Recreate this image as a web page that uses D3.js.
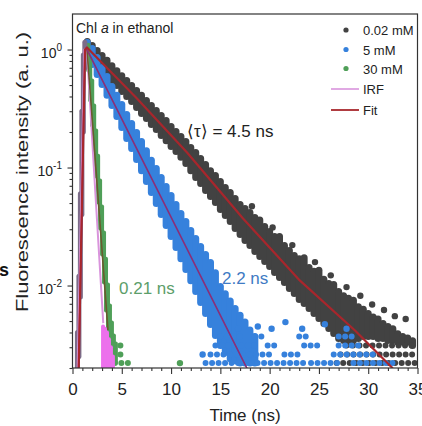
<!DOCTYPE html>
<html lang="en">
<head>
<meta charset="UTF-8">
<title>chl_a_decay</title>
<script src="https://d3js.org/d3.v7.min.js"></script>
<style>
  body { margin: 0; background: #fff; }
  svg { display: block; font-family: 'Liberation Sans', Arial, sans-serif; }
</style>
</head>
<body>
<div id="chart"></div>
<script>
// decay clouds: [time ns, low, high] per column
const grayCols = [
  [1.5,0.925,1.17],[2,0.823,1.08],[2.5,0.746,0.981],[3,0.66,0.89],[3.5,0.6,0.81],[4,0.546,0.73],
  [4.5,0.495,0.66],[5,0.441,0.6],[5.5,0.4,0.546],[6,0.363,0.495],[6.5,0.3225,0.45],[7,0.287,0.41],
  [7.5,0.26,0.37],[8,0.231,0.335],[8.5,0.21,0.304],[9,0.187,0.276],[9.5,0.169,0.25],[10,0.151,0.223],
  [10.5,0.137,0.202],[11,0.122,0.183],[11.5,0.108,0.166],[12,0.094,0.148],[12.5,0.0823,0.134],
  [13,0.0732,0.119],[13.5,0.0638,0.106],[14,0.0568,0.094],[14.5,0.0505,0.0855],[15,0.0441,0.0761],
  [15.5,0.0392,0.0677],[16,0.0349,0.0614],[16.5,0.0304,0.0546],[17,0.027,0.0486],[17.5,0.0241,0.0449],
  [18,0.0218,0.0416],[18.5,0.0194,0.0377],[19,0.0176,0.036],[19.5,0.016,0.0316],[20,0.0145,0.0287],
  [20.5,0.0129,0.026],[21,0.0117,0.026],[21.5,0.0106,0.0218],[22,0.00943,0.0198],[22.5,0.00855,0.018],
  [23,0.00761,0.0169],[23.5,0.00704,0.0172],[24,0.00638,0.0142],[24.5,0.00579,0.0132],[25,0.00525,0.0135],
  [25.5,0.00476,0.0113],[26,0.00432,0.0104],[26.5,0.00392,0.0102],[27,0.00356,0.0089],[27.5,0.00342,0.0082],
  [28,0.00342,0.0078],[28.5,0.00342,0.0075],[29,0.00356,0.0066],[29.5,0.0037,0.0063],[30,0.0037,0.0058],
  [30.5,0.0037,0.0054],[31,0.00356,0.0052],[31.5,0.00356,0.00476],[32,0.00342,0.0045],[32.5,0.00342,0.0043],
  [33,0.0033,0.0039],[33.5,0.0033,0.0037],[34,0.0033,0.0036],[34.5,0.0031,0.0034]
];
const blueCols = [
  [1.5,0.907,1.146],[2,0.746,1.02],[2.5,0.614,0.855],[3,0.505,0.704],[3.5,0.41,0.59],[4,0.335,0.486],
  [4.5,0.27,0.41],[5,0.218,0.342],[5.5,0.176,0.281],[6,0.145,0.236],[6.5,0.117,0.198],[7,0.094,0.166],
  [7.5,0.0761,0.139],[8,0.0614,0.115],[8.5,0.0495,0.098],[9,0.04,0.0823],[9.5,0.0323,0.069],[10,0.026,0.0579],
  [10.5,0.021,0.0486],[11,0.0169,0.0408],[11.5,0.0137,0.0349],[12,0.011,0.0293],[12.5,0.0089,0.025],
  [13,0.00718,0.0214],[13.5,0.00579,0.0183],[14,0.00467,0.0157],[14.5,0.00377,0.0128],[15,0.0031,0.0098],
  [15.5,0.0027,0.0085],[16,0.0024,0.0074],[16.5,0.0023,0.0064],[17,0.0022,0.0056],[17.5,0.0022,0.0049],
  [18,0.0022,0.0042],[18.5,0.0022,0.0037]
];
const greenCols = [
  [1.6,0.664,1.1],[1.8,0.37,0.839],[2,0.227,0.546],[2.2,0.139,0.335],[2.4,0.0839,0.206],[2.6,0.0505,0.126],
  [2.8,0.0304,0.0776],[3,0.0183,0.0467],[3.2,0.0106,0.0281],[3.4,0.00614,0.0169],[3.6,0.00377,0.0102],
  [3.8,0.0027,0.00677],[4,0.0022,0.00486],[4.2,0.0022,0.00377],[4.4,0.0022,0.00322]
];
const riseCols = [
  [0.5,0.0019,0.004],[0.65,0.0025,0.012],[0.8,0.008,0.06],[0.95,0.04,0.3],[1.1,0.2,0.9],[1.25,0.7,1.15]
];
const irfTail = [
  [3.1,0.0019,0.0045],[3.3,0.0019,0.0043],[3.5,0.0019,0.004],[3.7,0.0019,0.0035],[3.9,0.0019,0.003],[4.1,0.0019,0.0025]
];

// photon-count rows at the floor: [t start, t end, level]
const grayRows = [[26.8,35,0.0022],[27.2,35,0.0026],[27.8,35,0.0031]];
const blueRows = [
  [13.5,23.5,0.0022],[24.2,27,0.0022],[28.5,33,0.0022],
  [14,20.5,0.0026],[21.5,23,0.0026],[26.5,31,0.0026],
  [14.5,19,0.0031],[19.8,21,0.0031],[23.5,25,0.0031],[27,29.5,0.0031],
  [15,17,0.0037],[18.5,19.5,0.0037],[23,23.8,0.0037],[27,28.5,0.0037]
];
const greenRows = [[4.3,5.8,0.0022],[4.2,5.5,0.0026],[4.2,5.0,0.0031]];

// stray single points
const grayDots = [[18.2,0.047],[20.3,0.031],[22.3,0.022],[24.6,0.0158],[26.2,0.0122],[27.8,0.0097],
  [29.2,0.0082],[30.4,0.0069],[31.6,0.0062],[32.7,0.0055],[33.8,0.0052]];
const blueDots = [[16.8,0.0043],[18.8,0.0045],[20.2,0.0043],[21.6,0.0049],[23.3,0.0043],[25.6,0.0047],[13.2,0.0026],[27.8,0.0043]];
const greenDots = [[10.9,0.0022]];

// fitted curves and IRF: [t, intensity]
const grayFit = [[0.62,0.0019],[1.27,1.0],[1.47,1.04],[6.54,0.384],[11.62,0.134],[17.3,0.037],[23.08,0.011],[28.66,0.00416],[32.41,0.00202],[32.8,0.0018]];
const blueFit = [[0.62,0.0019],[1.27,1.0],[1.47,1.0],[18.0,0.00177]];
const greenFit = [[1.47,1.0],[3.6,0.0042]];
const irfLine = [[0.52,0.0019],[1.2,1.0],[1.45,1.0],[1.78,0.35],[2.28,0.069],[2.79,0.0137],[3.12,0.0048]];

const xTicks = [0, 5, 10, 15, 20, 25, 30, 35];
const yTicks = [1, 0.1, 0.01];
const yTickExp = ["0", "-1", "-2"];
const legendNames = ["0.02 mM", "5 mM", "30 mM", "IRF", "Fit"];

const colors = {
  gray: "#424242", blue: "#3681dc", green: "#4f9f58", rise: "#7c6c88",
  irf: "#d994dc", irfTail: "#ec70ec", fit: "#a8262c", blueFit: "#8a2e78", greenFit: "#6a5a2e"
};

const width = 422, height = 426;
const mLeft = 72.5, mRight = 417.5, mTop = 14, mBottom = 368;

const svg = d3.select("#chart").append("svg")
  .attr("width", width).attr("height", height);

svg.append("rect").attr("width", width).attr("height", height).attr("fill", "#fff");

const x = d3.scaleLinear().domain([0, 35]).range([mLeft, mRight]);
const y = d3.scaleLog().domain([0.002, 2]).range([mBottom, mTop]);

svg.append("clipPath").attr("id", "plotclip").append("rect")
  .attr("x", mLeft).attr("y", mTop).attr("width", mRight - mLeft).attr("height", mBottom - mTop);

const plot = svg.append("g").attr("clip-path", "url(#plotclip)");

function drawCols(data, color, w) {
  plot.append("g").selectAll("line").data(data).join("line")
    .attr("x1", d => x(d[0])).attr("x2", d => x(d[0]))
    .attr("y1", d => y(d[1])).attr("y2", d => y(d[2]))
    .attr("stroke", color).attr("stroke-width", w)
    .attr("stroke-linecap", "round");
}
function drawRows(data, color) {
  plot.append("g").selectAll("line").data(data).join("line")
    .attr("x1", d => x(d[0])).attr("x2", d => x(d[1]))
    .attr("y1", d => y(d[2])).attr("y2", d => y(d[2]))
    .attr("stroke", color).attr("stroke-width", 6)
    .attr("stroke-dasharray", "0 6.5")
    .attr("stroke-linecap", "round");
}
function drawDots(data, color) {
  plot.append("g").selectAll("circle").data(data).join("circle")
    .attr("cx", d => x(d[0])).attr("cy", d => y(d[1]))
    .attr("r", 3.2).attr("fill", color);
}
const line = d3.line().x(d => x(d[0])).y(d => y(d[1]));
function drawLine(data, color, w) {
  plot.append("path").datum(data).attr("d", line)
    .attr("fill", "none").attr("stroke", color).attr("stroke-width", w)
    .attr("stroke-linejoin", "round");
}

// data clouds
drawCols(grayCols, colors.gray, 7);
drawRows(grayRows, colors.gray);
drawDots(grayDots, colors.gray);
drawCols(blueCols, colors.blue, 7);
drawRows(blueRows, colors.blue);
drawDots(blueDots, colors.blue);
drawCols(greenCols, colors.green, 4);
drawRows(greenRows, colors.green);
drawDots(greenDots, colors.green);
drawCols(riseCols, colors.rise, 5);
drawCols(irfTail, colors.irfTail, 4);

// lines
drawLine(irfLine, colors.irf, 2);
drawLine(greenFit, colors.greenFit, 1.6);
drawLine(blueFit, colors.blueFit, 1.6);
drawLine(grayFit, colors.fit, 2.2);

// axes
const xAxis = svg.append("g").attr("transform", `translate(0,${mBottom})`)
  .call(d3.axisBottom(x).tickValues(xTicks).tickSize(6).tickSizeOuter(0));
xAxis.select(".domain").remove();
xAxis.selectAll("text").attr("y", 27).attr("dy", null)
  .attr("font-size", 17).attr("fill", "#222").attr("font-family", "'Liberation Sans', Arial, sans-serif");

const xMinor = svg.append("g").attr("transform", `translate(0,${mBottom})`)
  .call(d3.axisBottom(x).tickValues(d3.range(0, 36).filter(v => v % 5)).tickSize(3).tickFormat(""));
xMinor.select(".domain").remove();

const yAxis = svg.append("g").attr("transform", `translate(${mLeft},0)`)
  .call(d3.axisLeft(y).tickValues(yTicks).tickSize(5).tickFormat(""));
yAxis.select(".domain").remove();

const minorVals = [];
[0.001, 0.01, 0.1].forEach(dec => { for (let k = 2; k <= 9; k++) if (dec * k >= 0.002) minorVals.push(dec * k); });
const yMinor = svg.append("g").attr("transform", `translate(${mLeft},0)`)
  .call(d3.axisLeft(y).tickValues(minorVals).tickSize(3).tickFormat(""));
yMinor.select(".domain").remove();

svg.selectAll(".tick line").attr("stroke", "#333").attr("stroke-width", 1.1);

svg.append("rect").attr("x", mLeft).attr("y", mTop)
  .attr("width", mRight - mLeft).attr("height", mBottom - mTop)
  .attr("fill", "none").attr("stroke", "#333").attr("stroke-width", 1.2);

// y tick labels 10^n
yTicks.forEach((v, i) => {
  const t = svg.append("text").attr("x", 62).attr("y", y(v) + 8)
    .attr("text-anchor", "end").attr("fill", "#222");
  t.append("tspan").attr("font-size", 14).text("10");
  t.append("tspan").attr("font-size", 10).attr("dy", -7).text(yTickExp[i]);
});

// axis titles
svg.append("text").attr("x", 245).attr("y", 421).attr("text-anchor", "middle")
  .attr("font-size", 17).attr("fill", "#222").text("Time (ns)");
svg.append("text").attr("transform", "translate(28,172) rotate(-90)")
  .attr("text-anchor", "middle").attr("font-size", 17).attr("fill", "#222")
  .attr("textLength", 280).attr("lengthAdjust", "spacingAndGlyphs")
  .text("Fluorescence intensity (a. u.)");

// annotations
const title = svg.append("text").attr("x", 76).attr("y", 33).attr("font-size", 14).attr("fill", "#222");
title.append("tspan").text("Chl ");
title.append("tspan").attr("font-style", "italic").text("a");
title.append("tspan").text(" in ethanol");

svg.append("text").attr("x", 187).attr("y", 137).attr("font-size", 17).attr("fill", "#222")
  .text("\u27E8\u03C4\u27E9 = 4.5 ns");
svg.append("text").attr("x", 119).attr("y", 294).attr("font-size", 17).attr("fill", "#5c9e6a").text("0.21 ns");
svg.append("text").attr("x", 222).attr("y", 284).attr("font-size", 17).attr("fill", "#3f7bc4").text("2.2 ns");
svg.append("text").attr("x", -1).attr("y", 276).attr("font-size", 18).attr("font-weight", "bold").attr("fill", "#111").text("s");

// legend
const legendY = [30, 49.5, 68.5, 89, 110];
const legend = svg.append("g");
[colors.gray, colors.blue, colors.green].forEach((c, i) => {
  legend.append("circle").attr("cx", 346).attr("cy", legendY[i]).attr("r", 2.6).attr("fill", c);
});
legend.append("line").attr("x1", 331).attr("x2", 359).attr("y1", legendY[3]).attr("y2", legendY[3])
  .attr("stroke", colors.irf).attr("stroke-width", 1.6);
legend.append("line").attr("x1", 331).attr("x2", 359).attr("y1", legendY[4]).attr("y2", legendY[4])
  .attr("stroke", colors.fit).attr("stroke-width", 1.8);
legendNames.forEach((n, i) => {
  legend.append("text").attr("x", 363).attr("y", legendY[i] + 5)
    .attr("font-size", 13).attr("fill", "#222").text(n);
});
</script>
</body>
</html>
